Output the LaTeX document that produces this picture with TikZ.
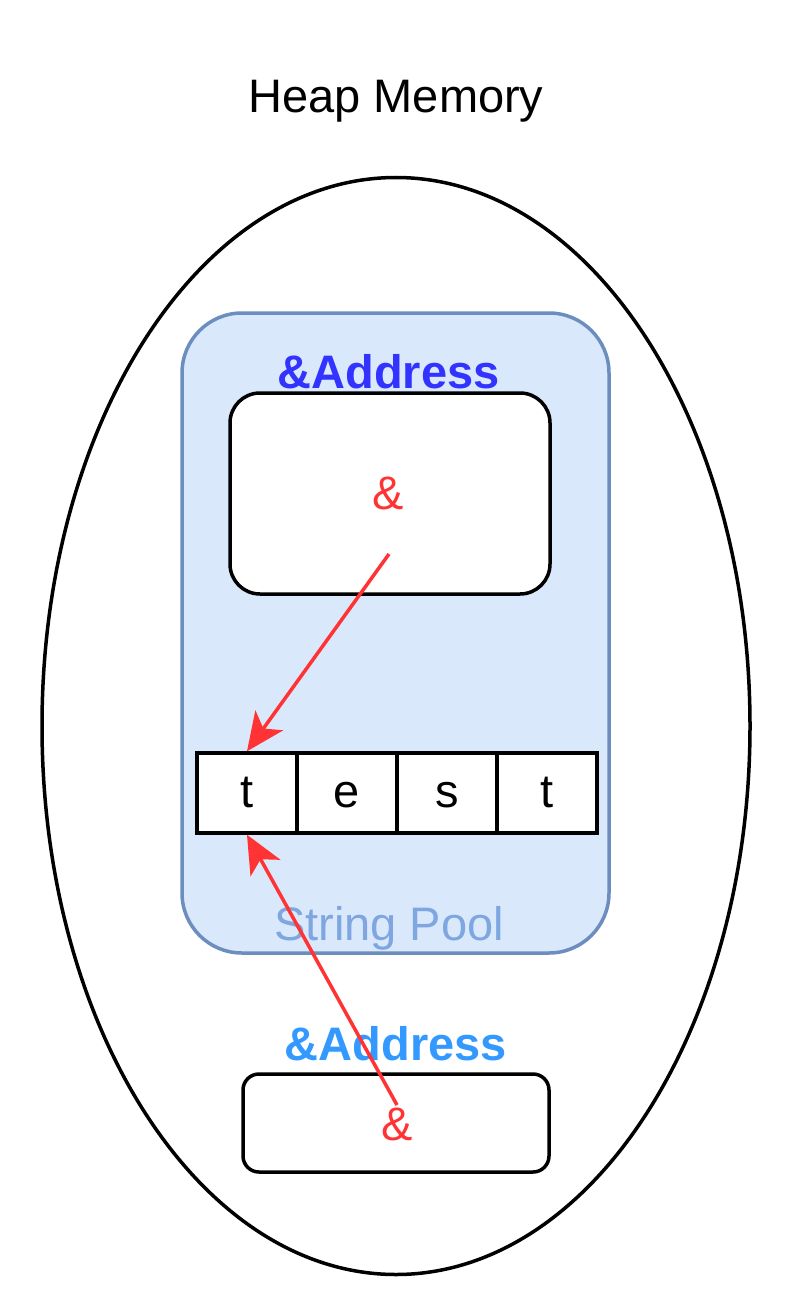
\documentclass[tikz,border=0pt]{standalone}
\usepackage{fontspec}
\setmainfont{Liberation Sans}
\usepackage{tikz}
\usetikzlibrary{arrows.meta, positioning, shapes.geometric}
\definecolor{poolfill}{HTML}{DAE8FC}
\definecolor{pooldraw}{HTML}{6C8EBF}
\definecolor{pooltext}{HTML}{7EA6E0}
\definecolor{addrblue}{HTML}{3333FF}
\definecolor{addrsky}{HTML}{3399FF}
\definecolor{ptrred}{HTML}{FF3333}

\begin{document}
\begin{tikzpicture}[x=1pt, y=-1pt,
    big/.style={font=\fontsize{47}{56}\selectfont, inner sep=0pt},
    slot/.style={draw, line width=3.5pt, fill=white, inner sep=0pt},
    cellbox/.style={slot, minimum width=100pt, minimum height=80pt,
      text height=28pt, text depth=0pt, big},
    ptr/.style={draw=ptrred, line width=3.5pt,
      -{Stealth[length=38pt, width=34pt, inset=10pt]}}]
  \useasboundingbox (0,0) rectangle (792,1316);
  \node[big, anchor=base] (title) at (396,113) {Heap Memory};
  \node[draw, line width=3.5pt, ellipse, inner sep=0pt,
        minimum width=708pt, minimum height=1097pt] (heap) at (396,726) {};
  % --- string pool ---
  \node[draw=pooldraw, fill=poolfill, line width=3.5pt, rounded corners=60pt,
        minimum width=427pt, minimum height=640pt] (pool) at (395.5,633) {};
  \node[big, anchor=base, text=pooltext] (poolname) at (389,940) {String Pool};
  \node[big, anchor=base, text=addrblue, font=\fontsize{47}{56}\selectfont\bfseries]
    (addrA) at (388.5,388) {\&Address};
  \node[slot, rounded corners=30pt, minimum width=320pt, minimum height=201pt]
    (boxA) at (390,493.5) {};
  \node[big, anchor=base, text=ptrred] (ptrA) at (388,509) {\&};
  \foreach \c [count=\i from 0] in {t,e,s,t}
    \node[cellbox] (cell\i) at (247+100*\i,793) {\c};
  % --- outside the pool ---
  \node[big, anchor=base, text=addrsky, font=\fontsize{47}{56}\selectfont\bfseries]
    (addrB) at (396,1060) {\&Address};
  \node[slot, rounded corners=16pt, minimum width=306pt, minimum height=98pt]
    (boxB) at (396,1123) {};
  \node[big, anchor=base, text=ptrred] (ptrB) at (397,1140) {\&};
  \coordinate (srcA) at (389,554);
  \coordinate (srcB) at (397,1105);
  \draw[ptr] (srcA) -- (cell0.north);
  \draw[ptr] (srcB) -- (cell0.south);
\end{tikzpicture}
\end{document}
